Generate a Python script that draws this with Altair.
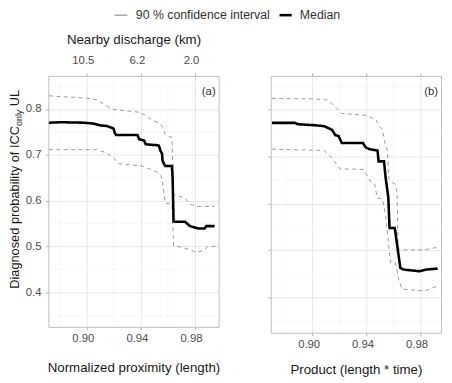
import altair as alt
import pandas as pd

FONT = "Liberation Sans"
series_names = ["90 % confidence interval", "Median"]
series_colors = ["#999999", "#000000"]
series_widths = [1.0, 2.6]

# ---- panel (a): Normalized proximity (length)
a_med_x = [0.872, 0.881, 0.898, 0.905, 0.910, 0.9145, 0.9194, 0.920, 0.9206, 0.9218, 0.9375, 0.9388,
           0.9424, 0.9436, 0.9472, 0.952, 0.9533, 0.9545, 0.9557, 0.956, 0.9569, 0.9581, 0.963, 0.9635,
           0.9642, 0.9654, 0.9727, 0.9764, 0.9824, 0.9872, 0.9885, 0.9945]
a_med_y = [0.770, 0.771, 0.770, 0.768, 0.764, 0.763, 0.758, 0.756, 0.748, 0.743, 0.743, 0.734,
           0.731, 0.723, 0.722, 0.721, 0.720, 0.709, 0.702, 0.688, 0.681, 0.6755, 0.6755, 0.648,
           0.555, 0.554, 0.554, 0.5446, 0.5395, 0.5395, 0.5446, 0.5446]
a_up_x = [0.8721, 0.8879, 0.900, 0.9073, 0.9121, 0.917, 0.9206, 0.9388, 0.9436, 0.9484, 0.9533, 0.9557,
          0.9581, 0.9606, 0.963, 0.9642, 0.969, 0.9727, 0.9763, 0.980, 0.9945]
a_up_y = [0.8285, 0.8257, 0.8236, 0.820, 0.8114, 0.802, 0.7985, 0.7928, 0.7856, 0.7756, 0.770, 0.7627,
          0.745, 0.740, 0.7378, 0.6125, 0.609, 0.6054, 0.5925, 0.5875, 0.5875]
a_lo_x = [0.8721, 0.9073, 0.9097, 0.9145, 0.9206, 0.923, 0.9242, 0.9412, 0.946, 0.9521, 0.9545, 0.9557,
          0.9569, 0.9581, 0.963, 0.9642, 0.9654, 0.9751, 0.9812, 0.986, 0.9896, 0.9957]
a_lo_y = [0.7112, 0.7112, 0.7091, 0.7041, 0.6912, 0.6826, 0.6805, 0.6755, 0.6697, 0.6626, 0.6554, 0.6483,
          0.6197, 0.5946, 0.5925, 0.5017, 0.5017, 0.4944, 0.4873, 0.491, 0.5002, 0.5002]

# ---- panel (b): Product (length * time)
b_med_x = [0.8699, 0.8868, 0.8892, 0.9012, 0.9085, 0.9108, 0.9145, 0.9168, 0.9193, 0.9217, 0.9374, 0.9393,
           0.9422, 0.9482, 0.949, 0.953, 0.9542, 0.9562, 0.9571, 0.961, 0.9651, 0.9675, 0.9795, 0.9844, 0.9928]
b_med_y = [0.772, 0.772, 0.769, 0.767, 0.765, 0.762, 0.757, 0.746, 0.744, 0.729, 0.729, 0.720,
           0.716, 0.713, 0.690, 0.690, 0.655, 0.613, 0.548, 0.548, 0.463, 0.4596, 0.456, 0.4596, 0.4617]
b_up_x = [0.8699, 0.8990, 0.9108, 0.9145, 0.9193, 0.9217, 0.9398, 0.947, 0.949, 0.9518, 0.9542, 0.9555,
          0.9566, 0.9591, 0.9615, 0.9627, 0.9634, 0.9651, 0.9832, 0.9916, 0.994]
b_up_y = [0.824, 0.823, 0.821, 0.813, 0.799, 0.792, 0.788, 0.779, 0.767, 0.757, 0.722, 0.714,
          0.652, 0.645, 0.641, 0.624, 0.505, 0.5015, 0.5015, 0.5065, 0.5065]
b_lo_x = [0.8699, 0.9085, 0.9132, 0.9205, 0.9374, 0.940, 0.943, 0.946, 0.948, 0.9518, 0.9542, 0.9578,
          0.9615, 0.9639, 0.9663, 0.9832, 0.9928]
b_lo_y = [0.716, 0.713, 0.701, 0.674, 0.673, 0.662, 0.647, 0.642, 0.612, 0.610, 0.575, 0.474,
          0.474, 0.439, 0.418, 0.414, 0.425]

x_ticks = [0.90, 0.94, 0.98]
x_minor = [0.88, 0.92, 0.96]
y_ticks = [0.4, 0.5, 0.6, 0.7, 0.8]
y_minor = [0.35, 0.45, 0.55, 0.65, 0.75, 0.85]
top_labels = ["10.5", "6.2", "2.0"]
y_title_parts = ["Diagnosed probability of ICC", "only", "UL"]


def frame(mx, my, ux, uy, lx, ly):
    rows = []
    for name, xs, ys, s in [("median", mx, my, series_names[1]),
                            ("upper", ux, uy, series_names[0]),
                            ("lower", lx, ly, series_names[0])]:
        for i, (x, y) in enumerate(zip(xs, ys)):
            rows.append({"x": x, "y": y, "series": s, "line": name, "i": i})
    return pd.DataFrame(rows)


def txt(s, **kw):
    return alt.Chart(pd.DataFrame({"t": [s]})).mark_text(font=FONT, **kw)


def panel(df, xdom, ydom, width, height, tag, xtitle, first):
    xs = alt.Scale(domain=xdom, nice=False, zero=False)
    ys = alt.Scale(domain=ydom, nice=False, zero=False)
    yaxis = alt.Axis(values=y_ticks, format=".1f", labels=first, title=None, grid=True,
                     labelPadding=4.5)
    color = alt.Color("series:N", scale=alt.Scale(domain=series_names, range=series_colors), legend=None)
    sw = alt.StrokeWidth("series:N", scale=alt.Scale(domain=series_names, range=series_widths), legend=None)
    sd = alt.StrokeDash("series:N", scale=alt.Scale(domain=series_names, range=[[4, 3.5], [1, 0]]),
                        legend=None)
    if first:
        top_expr = " : ".join(
            f"datum.value < {v + 0.02:.2f} ? '{lab}'" for v, lab in zip(x_ticks[:-1], top_labels[:-1])
        ) + f" : '{top_labels[-1]}'"
        top_axis = alt.Axis(orient="top", values=x_ticks, labelExpr=top_expr, title="Nearby discharge (km)",
                            grid=False, labelPadding=7.5, titlePadding=8, labelOffset=-4)
    else:
        top_axis = alt.Axis(orient="top", values=x_ticks, labels=False, title=None, grid=False)
    bottom_axis = alt.Axis(orient="bottom", values=x_ticks, format=".2f", title=xtitle, grid=True,
                           labelPadding=3, titlePadding=16.5 if first else 13, labelOffset=-4)

    vgrid = alt.Chart(pd.DataFrame({"x": x_minor})).mark_rule(color="#F1F1F1", strokeWidth=0.6).encode(
        x=alt.X("x:Q", scale=xs, axis=None))
    hgrid = alt.Chart(pd.DataFrame({"y": y_minor})).mark_rule(color="#F1F1F1", strokeWidth=0.6).encode(
        y=alt.Y("y:Q", scale=ys, axis=yaxis))
    ci = alt.Chart(df[df.line != "median"]).mark_line().encode(
        x=alt.X("x:Q", scale=xs, axis=top_axis),
        y=alt.Y("y:Q", scale=ys, axis=yaxis),
        color=color, strokeWidth=sw, strokeDash=sd,
        detail="line:N", order="i:Q")
    med = alt.Chart(df[df.line == "median"]).mark_line().encode(
        x=alt.X("x:Q", scale=xs, axis=bottom_axis),
        y=alt.Y("y:Q", scale=ys, axis=yaxis),
        color=color, strokeWidth=sw, strokeDash=sd,
        order="i:Q")
    tagtxt = txt(tag, align="right", baseline="middle", fontSize=11.5, color="#333333").encode(
        x=alt.value(width - 3), y=alt.value(16.5), text="t:N")
    layers = [vgrid, hgrid, ci, med, tagtxt]
    if first:
        # y-axis title with subscript
        y0 = 216.3
        w_main = 12.727 * 13
        w_sub = 1.834 * 9
        w_space = 0.278 * 13
        t1 = txt(y_title_parts[0], angle=270, align="left", baseline="alphabetic", fontSize=13,
                 color="#1A1A1A").encode(x=alt.value(-29.5), y=alt.value(y0), text="t:N")
        t2 = txt(y_title_parts[1], angle=270, align="left", baseline="alphabetic", fontSize=9,
                 color="#1A1A1A").encode(x=alt.value(-26.5), y=alt.value(y0 - w_main), text="t:N")
        t3 = txt(y_title_parts[2], angle=270, align="left", baseline="alphabetic", fontSize=13,
                 color="#1A1A1A").encode(x=alt.value(-29.5), y=alt.value(y0 - w_main - w_sub - w_space),
                                         text="t:N")
        # legend (centred above both panels)
        ly = -61.7
        k1 = alt.Chart(pd.DataFrame({"s": [series_names[0]]})).mark_rule(
            color=series_colors[0], strokeWidth=1.3).encode(
            x=alt.value(67.2), x2=alt.value(80.2), y=alt.value(ly))
        l1 = txt(series_names[0], align="left", baseline="middle", fontSize=12.5, color="#333333").encode(
            x=alt.value(88.9), y=alt.value(ly), text="t:N")
        k2 = alt.Chart(pd.DataFrame({"s": [series_names[1]]})).mark_rule(
            color=series_colors[1], strokeWidth=series_widths[1]).encode(
            x=alt.value(234.9), x2=alt.value(247.2), y=alt.value(ly))
        l2 = txt(series_names[1], align="left", baseline="middle", fontSize=12.5, color="#333333").encode(
            x=alt.value(255.5), y=alt.value(ly), text="t:N")
        layers += [t1, t2, t3, k1, l1, k2, l2]
    return alt.layer(*layers).resolve_axis(x="independent").properties(width=width, height=height)


dfa = frame(a_med_x, a_med_y, a_up_x, a_up_y, a_lo_x, a_lo_y)
dfb = frame(b_med_x, b_med_y, b_up_x, b_up_y, b_lo_x, b_lo_y)

left = panel(dfa, [0.8716, 0.9975], [0.325, 0.872], 173, 255, "(a)", "Normalized proximity (length)", True)
right = panel(dfb, [0.869, 0.9953], [0.325, 0.872], 173, 261, "(b)", "Product (length * time)", False)

chart = alt.hconcat(left, right, spacing=53, bounds="flush").properties(
    padding={"left": 0, "top": -3, "right": 0, "bottom": 0}
).configure_view(
    stroke="#BDBDBD", strokeWidth=1
).configure_axis(
    labelFont=FONT, labelFontSize=11.5, labelColor="#4D4D4D",
    titleFont=FONT, titleFontSize=13.5, titleColor="#1A1A1A", titleFontWeight="normal",
    tickColor="#B3B3B3", tickSize=3, domain=False,
    gridColor="#E3E3E3", gridWidth=0.9
)

chart.save("out.html", embed_options={"renderer": "svg", "actions": False})
